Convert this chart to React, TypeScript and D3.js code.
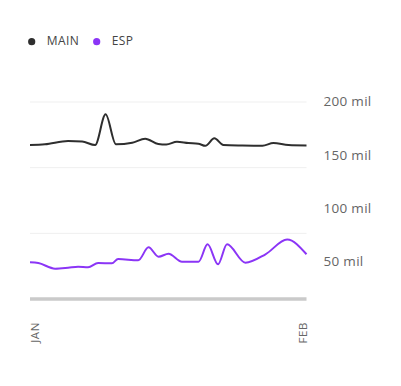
import React, { useRef, useEffect } from 'react';
import * as d3 from 'd3';

// days since Jan 1 / value in "mil"
const mainDays = [0, 1.68, 4.27, 5.84, 7.3, 8.48, 9.63, 11.46, 12.92, 14.38, 15.28, 16.48, 17.75, 18.87, 19.66, 20.67, 21.68, 23.81, 26.06, 27.29, 28.98, 31];
const mainValues = [160.3, 161.0, 164.1, 163.6, 160.3, 189.1, 161.0, 162.5, 166.2, 161.3, 160.8, 163.4, 162.2, 161.6, 159.6, 166.6, 160.3, 159.9, 159.7, 162.2, 160.3, 159.9];

const espDays = [0, 0.93, 2.81, 4.27, 5.39, 6.51, 7.64, 9.18, 9.88, 12.13, 13.29, 14.41, 15.53, 17.04, 18.9, 19.91, 21.08, 22.09, 24.15, 26.4, 28.83, 31];
const espValues = [50.4, 49.7, 44.4, 45.3, 46.3, 45.7, 49.7, 49.4, 53.5, 52.2, 64.4, 55.6, 58.4, 50.9, 50.9, 67.2, 48.5, 67.2, 50.0, 57.9, 71.7, 57.9];

const seriesNames = ['MAIN', 'ESP'];
const seriesColors = ['#2e2e2e', '#8b35f6'];
const yTicks = [200, 150, 100, 50];
const monthLabels = ['JAN', 'FEB'];
const monthDays = [0, 31];

const font = '"Open Sans", sans-serif';

const Chart = () => {
  const svgRef = useRef(null);

  useEffect(() => {
    const svg = d3.select(svgRef.current);
    svg.selectAll('*').remove();

    const x = d3.scaleLinear().domain([0, 31]).range([30, 306.5]);
    const y = d3.scaleLinear().domain([50, 200]).range([262.7, 102.7]);
    const grid = d3.scaleLinear().domain([0, 3]).range([102, 299]);

    // grid lines
    svg.append('g')
      .selectAll('line')
      .data([0, 1, 2])
      .join('line')
        .attr('x1', x(0))
        .attr('x2', x(31))
        .attr('y1', d => grid(d))
        .attr('y2', d => grid(d))
        .attr('stroke', '#efefef')
        .attr('stroke-width', 1);

    svg.append('line')
      .attr('x1', x(0))
      .attr('x2', x(31))
      .attr('y1', grid(3))
      .attr('y2', grid(3))
      .attr('stroke', '#cacaca')
      .attr('stroke-width', 3.5);

    // y labels
    svg.append('g')
      .selectAll('text')
      .data(yTicks)
      .join('text')
        .attr('x', 323.5)
        .attr('y', d => y(d))
        .attr('dominant-baseline', 'middle')
        .attr('font-family', font)
        .attr('font-size', 13.5)
        .attr('letter-spacing', 0.3)
        .attr('fill', '#666')
        .text(d => `${d} mil`);

    // x labels, rotated
    const labelShift = [8.5, 0.5];
    svg.append('g')
      .selectAll('text')
      .data(monthLabels)
      .join('text')
        .attr('transform', (d, i) => `translate(${x(monthDays[i]) + labelShift[i]},322) rotate(-90)`)
        .attr('text-anchor', 'end')
        .attr('font-family', font)
        .attr('font-size', 11.5)
        .attr('letter-spacing', 0.6)
        .attr('fill', '#666')
        .text(d => d);

    const line = d3.line()
      .x(d => x(d[0]))
      .y(d => y(d[1]))
      .curve(d3.curveMonotoneX);

    const series = [
      d3.zip(mainDays, mainValues),
      d3.zip(espDays, espValues),
    ];

    svg.append('g')
      .selectAll('path')
      .data(series)
      .join('path')
        .attr('d', d => line(d))
        .attr('fill', 'none')
        .attr('stroke', (d, i) => seriesColors[i])
        .attr('stroke-width', 2)
        .attr('stroke-linejoin', 'round');

    // legend
    const legendX = [31.7, 96.7];
    const legend = svg.append('g')
      .selectAll('g')
      .data(seriesNames)
      .join('g')
        .attr('transform', (d, i) => `translate(${legendX[i]},41.7)`);
    legend.append('circle')
      .attr('r', 3.6)
      .attr('fill', (d, i) => seriesColors[i]);
    legend.append('text')
      .attr('x', 15)
      .attr('dominant-baseline', 'middle')
      .attr('font-family', font)
      .attr('font-size', 12)
      .attr('letter-spacing', 0.4)
      .attr('fill', '#444')
      .text(d => d);
  }, []);

  return (
    <svg ref={svgRef} width={401} height={386} style={{ display: 'block' }}>
    </svg>
  );
};

export default function App() {
  useEffect(() => {
    document.body.style.margin = '0';
  }, []);
  return <Chart />;
}
